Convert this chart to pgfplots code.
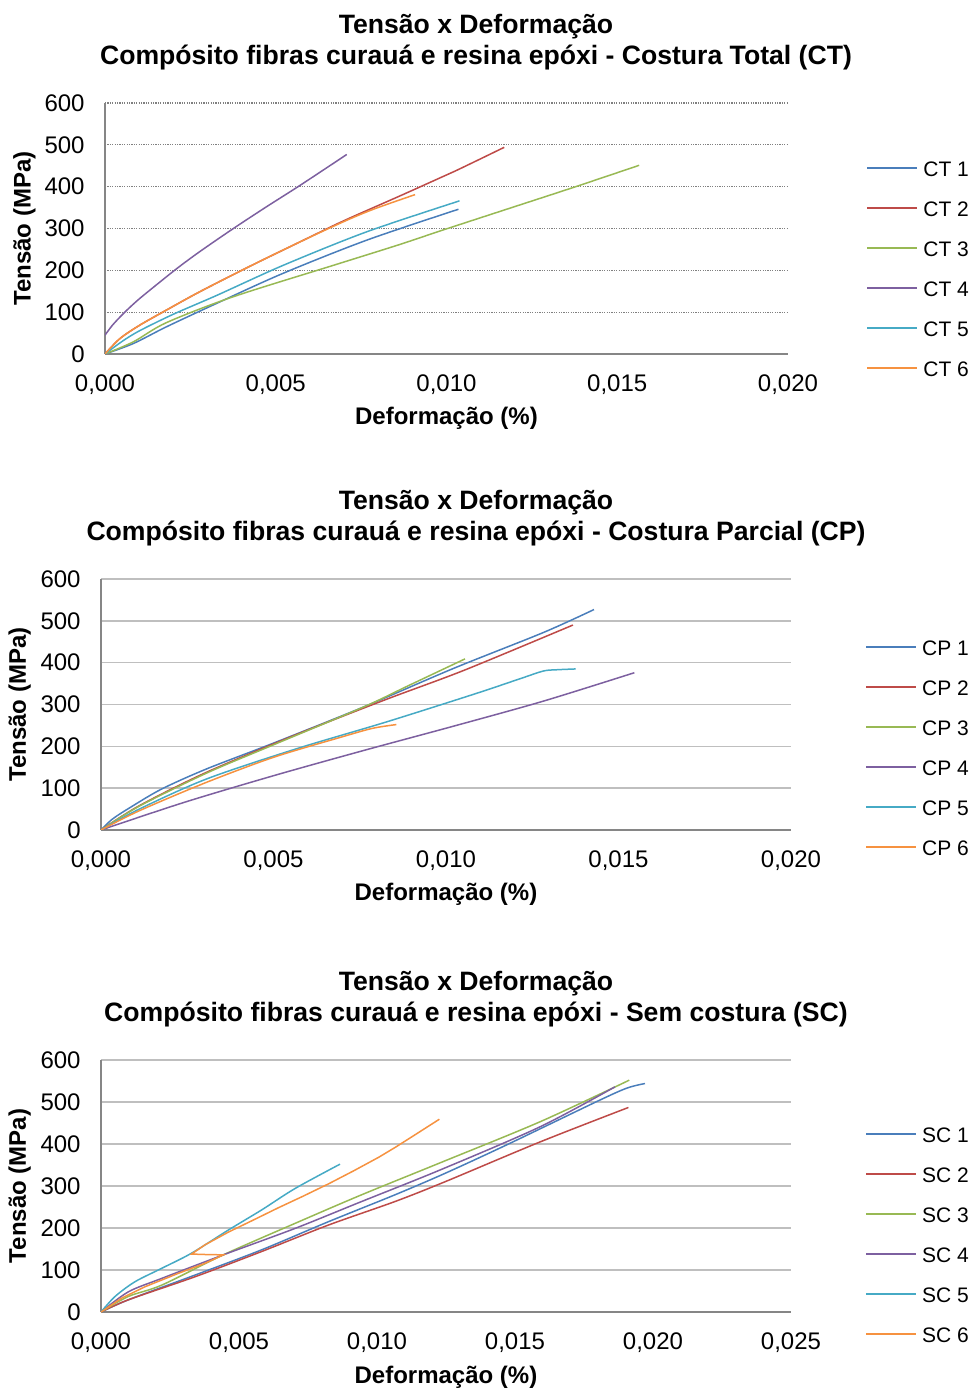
\documentclass[border=0pt]{standalone}
\usepackage{fontspec}
\setmainfont{Liberation Sans}
\usepackage{pgfplots}
\pgfplotsset{compat=1.18}
\definecolor{cA}{HTML}{4A7EBB}
\definecolor{cB}{HTML}{BE4B48}
\definecolor{cC}{HTML}{98B954}
\definecolor{cD}{HTML}{7D60A0}
\definecolor{cE}{HTML}{46AAC5}
\definecolor{cF}{HTML}{F69240}
\definecolor{axisgray}{HTML}{868686}
\definecolor{gridgray}{HTML}{BFBFBF}
\pgfplotsset{
  base/.style={
    scale only axis, height=125.5pt,
    xmin=0, ymin=0, ymax=600, ytick={0,100,...,600},
    scaled x ticks=false,
    axis x line=bottom, axis y line=left,
    axis line style={draw=axisgray, line width=0.8pt, -},
    major tick length=0pt,
    tick label style={font=\fontsize{12}{14}\selectfont, black},
    /pgf/number format/assume math mode=true,
    yticklabel style={inner sep=0pt, anchor=east, xshift=-10pt},
    xticklabel style={inner sep=0pt, anchor=north, yshift=-10.25pt},
    ymajorgrids,
    xlabel={Deformação (\%)}, ylabel={Tensão (MPa)},
    label style={font=\bfseries\fontsize{12}{14}\selectfont},
    xlabel style={at={(axis description cs:0.5,-0.255)}, anchor=center},
    ylabel style={at={(axis description cs:-0.118,0.5)}, anchor=center},
    legend style={draw=none, fill=none, anchor=west, inner sep=0pt,
      font=\fontsize{10.5}{12}\selectfont, row sep=11.5pt,
      nodes={inner sep=0pt, text height=8.5pt, text depth=0pt}},
    legend cell align=left,
    /tikz/every odd column/.append style={column sep=2.5pt},
    legend image code/.code={\draw[#1, line width=1pt] (0pt,0pt) -- (25pt,0pt);},
    every axis plot/.append style={line width=0.75pt, no marks},
  },
}
\begin{document}
\begin{tikzpicture}
\path[use as bounding box] (0,0) rectangle (485.5pt,695pt);

\node[font=\bfseries\fontsize{13.3}{15.5}\selectfont, align=center] at (238pt,673.75pt)
  {Tensão x Deformação\\Compósito fibras curauá e resina epóxi - Costura Total (CT)};
\node[font=\bfseries\fontsize{13.3}{15.5}\selectfont, align=center] at (238pt,435.75pt)
  {Tensão x Deformação\\Compósito fibras curauá e resina epóxi - Costura Parcial (CP)};
\node[font=\bfseries\fontsize{13.3}{15.5}\selectfont, align=center] at (238pt,195.25pt)
  {Tensão x Deformação\\Compósito fibras curauá e resina epóxi - Sem costura (SC)};

% ---------------- Chart 1: CT
\begin{axis}[base, width=341.5pt, at={(52.5pt,518pt)}, anchor=south west,
  xmax=0.02, xtick={0,0.005,0.01,0.015,0.02},
  xticklabels={{0,000},{0,005},{0,010},{0,015},{0,020}},
  major grid style={draw=gray, line width=0.6pt, dash pattern=on 0.6pt off 0.6pt},
  legend style={at={(axis description cs:1.1142,0.3406)}}]
\addplot[cA, smooth] coordinates {(0,0) (0.00083,25) (0.0018,65) (0.00327,121) (0.00522,193) (0.00766,272) (0.01035,346)};
\addplot[cB, smooth] coordinates {(0,0) (0.00044,37) (0.00102,69) (0.0018,105) (0.00278,149) (0.00425,210) (0.00571,268) (0.00698,318) (0.00864,378) (0.00981,421) (0.0104,443) (0.01169,494)};
\addplot[cC, smooth] coordinates {(0,0) (0.00083,29) (0.0018,75) (0.00376,137) (0.00669,212) (0.00864,262) (0.00981,294) (0.01176,346) (0.01371,398) (0.01564,451)};
\addplot[cD, smooth] coordinates {(0,45) (0.0002,67) (0.0004,85) (0.00063,104) (0.00095,128) (0.00132,153) (0.0021,204) (0.00278,245) (0.00376,300) (0.00473,352) (0.00571,403) (0.00708,477)};
\addplot[cE, smooth] coordinates {(0,0) (0.0005,30) (0.001,55) (0.002,95) (0.00327,140) (0.00522,212) (0.00766,292) (0.01038,366)};
\addplot[cF, smooth] coordinates {(0,0) (0.00044,37) (0.00102,69) (0.0018,105) (0.00278,149) (0.00425,210) (0.00571,268) (0.00698,316) (0.00786,346) (0.00908,381)};
\legend{CT 1,CT 2,CT 3,CT 4,CT 5,CT 6}
\end{axis}

% ---------------- Chart 2: CP
\begin{axis}[base, width=345pt, at={(50.5pt,280pt)}, anchor=south west,
  xmax=0.02, xtick={0,0.005,0.01,0.015,0.02},
  xticklabels={{0,000},{0,005},{0,010},{0,015},{0,020}},
  major grid style={draw=gridgray, line width=0.8pt},
  legend style={at={(axis description cs:1.107,0.3287)}}]
\addplot[cA, smooth] coordinates {(0,0) (0.00033,26) (0.00085,54) (0.00176,98) (0.00306,146) (0.00501,208) (0.00761,294) (0.01021,386) (0.01282,472) (0.01429,527)};
\addplot[cB, smooth] coordinates {(0,0) (0.00111,58) (0.00306,138) (0.00566,228) (0.00826,312) (0.01053,382) (0.01368,490)};
\addplot[cC, smooth] coordinates {(0,0) (0.00111,57) (0.00306,136) (0.00501,204) (0.00761,294) (0.00891,345) (0.01055,409)};
\addplot[cD, smooth] coordinates {(0,0) (0.00241,66) (0.00501,130) (0.00761,190) (0.01021,248) (0.01282,308) (0.01546,376)};
\addplot[cE, smooth] coordinates {(0,0) (0.00111,50) (0.00306,122) (0.00566,194) (0.00826,258) (0.01086,326) (0.01216,362) (0.01282,380) (0.0132,383) (0.01376,385)};
\addplot[cF, smooth] coordinates {(0,0) (0.00111,46) (0.00306,114) (0.00501,174) (0.00696,222) (0.00787,243) (0.00856,252)};
\legend{CP 1,CP 2,CP 3,CP 4,CP 5,CP 6}
\end{axis}

% ---------------- Chart 3: SC
\begin{axis}[base, width=345pt, height=126pt, at={(50.5pt,39pt)}, anchor=south west,
  xmax=0.025, xtick={0,0.005,0.01,0.015,0.02,0.025},
  xticklabels={{0,000},{0,005},{0,010},{0,015},{0,020},{0,025}},
  major grid style={draw=gridgray, line width=0.8pt},
  xlabel style={at={(axis description cs:0.5,-0.258)}},
  legend style={at={(axis description cs:1.107,0.3115)}}]
\addplot[cA, smooth] coordinates {(0,0) (0.00099,29) (0.00341,88) (0.00582,148) (0.00824,215) (0.01065,279) (0.01246,330) (0.0147,398) (0.01796,501) (0.01905,533) (0.01971,544)};
\addplot[cB, smooth] coordinates {(0,0) (0.00099,29) (0.00341,84) (0.00582,144) (0.00824,207) (0.01065,263) (0.01246,310) (0.01591,405) (0.01911,487)};
\addplot[cC, smooth] coordinates {(0,0) (0.00099,37) (0.0022,64) (0.00443,136) (0.00703,211) (0.00944,279) (0.01228,355) (0.01591,453) (0.01914,552)};
\addplot[cD, smooth] coordinates {(0,0) (0.00099,48) (0.0022,80) (0.00443,136) (0.00703,199) (0.00944,263) (0.01228,338) (0.01591,441) (0.01862,536)};
\addplot[cE, smooth] coordinates {(0,0) (0.00051,37) (0.00123,72) (0.0022,104) (0.00328,140) (0.00461,195) (0.00582,243) (0.00703,294) (0.00866,352)};
\addplot[cF] coordinates {(0,0) (0.00075,33) (0.00159,60) (0.0028,92) (0.00377,116) (0.00443,136) (0.0037,137) (0.00328,138) (0.00377,160) (0.00461,190) (0.00552,219) (0.00642,248) (0.00733,276) (0.00824,305) (0.00915,336) (0.01005,368) (0.01066,392) (0.01126,417) (0.01176,438) (0.01226,459)};
\legend{SC 1,SC 2,SC 3,SC 4,SC 5,SC 6}
\end{axis}
\end{tikzpicture}
\end{document}
